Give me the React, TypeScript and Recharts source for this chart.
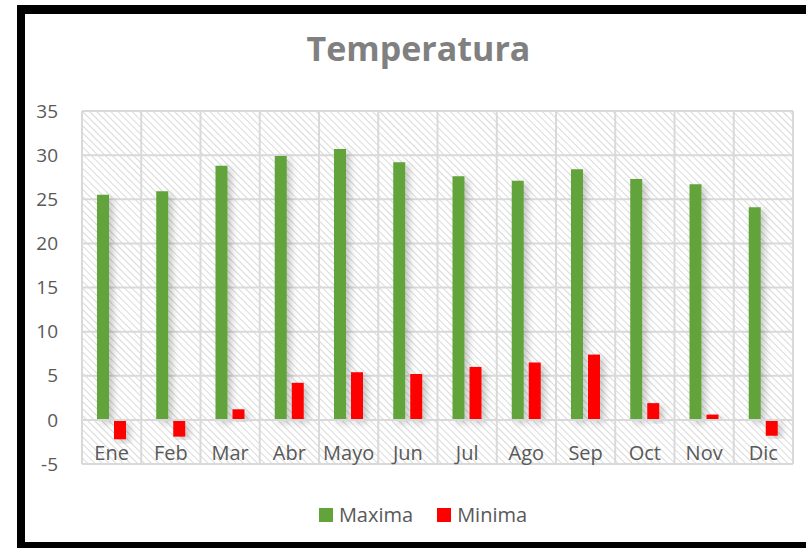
import { BarChart, Bar, XAxis, YAxis, CartesianGrid, Legend, ReferenceLine } from "recharts";

const months = ["Ene", "Feb", "Mar", "Abr", "Mayo", "Jun", "Jul", "Ago", "Sep", "Oct", "Nov", "Dic"];
const maxima = [25.5, 25.9, 28.8, 29.9, 30.7, 29.2, 27.6, 27.1, 28.4, 27.3, 26.7, 24.1];
const minima = [-2.2, -1.9, 1.2, 4.2, 5.4, 5.2, 6.0, 6.5, 7.4, 1.9, 0.6, -1.8];
const yTicks = [-5, 0, 5, 10, 15, 20, 25, 30, 35];

const data = months.map((m, i) => ({ name: m, Maxima: maxima[i], Minima: minima[i] }));

const FONT = "'Open Sans', 'DejaVu Sans', sans-serif";
const TEXT = "#595959";

// labels sit just under the zero line, inside the plot
const MonthTick = (props: any) => {
  const { x, y, payload } = props;
  return (
    <text x={x} y={y - 20} textAnchor="middle" dominantBaseline="central" fill={TEXT} fontSize={20} fontFamily={FONT}>
      {payload.value}
    </text>
  );
};

const LegendContent = (props: any) => {
  const { payload } = props;
  return (
    <div style={{ display: "flex", justifyContent: "center", gap: 24, fontFamily: FONT, fontSize: 20, color: TEXT }}>
      {payload.map((p: any) => (
        <div key={p.value} style={{ display: "flex", alignItems: "center", gap: 6 }}>
          <span style={{ width: 14, height: 14, background: p.color, display: "inline-block" }} />
          <span>{p.value}</span>
        </div>
      ))}
    </div>
  );
};

const App = () => {
  return (
    <div style={{ position: "absolute", left: 0, top: 0, width: 806, height: 548, overflow: "hidden", background: "#fff" }}>
      <BarChart
        width={806}
        height={548}
        data={data}
        margin={{ top: 111, right: 13, bottom: 54, left: 0 }}
        barSize={12}
        barGap={5}
        style={{ fontFamily: FONT }}
      >
        <defs>
          <pattern id="hatch" width="5" height="5" patternUnits="userSpaceOnUse" patternTransform="rotate(45)">
            <rect width="5" height="5" fill="#ffffff" />
            <line x1="0" y1="0" x2="5" y2="0" stroke="#d6d6d6" strokeWidth="1.8" />
          </pattern>
          <filter id="shadow" x="-50%" y="-20%" width="250%" height="140%">
            <feDropShadow dx="4" dy="3" stdDeviation="3.5" floodColor="#000" floodOpacity="0.22" />
          </filter>
        </defs>
        <CartesianGrid
          fill="url(#hatch)"
          stroke="#d9d9d9"
          strokeWidth={2}
          verticalCoordinatesGenerator={({ offset }: any) =>
            months.map((_, i) => offset.left + (offset.width * i) / months.length).concat(offset.left + offset.width)
          }
        />
        <XAxis dataKey="name" height={30} axisLine={false} tickLine={false} tick={<MonthTick />} interval={0} />
        <YAxis
          domain={[-5, 35]}
          ticks={yTicks}
          width={82}
          axisLine={false}
          tickLine={false}
          tickMargin={18}
          tick={{ fill: TEXT, fontSize: 19, fontFamily: FONT }}
        />
        <ReferenceLine y={0} stroke="#d9d9d9" strokeWidth={2} />
        <Bar dataKey="Maxima" fill="#62a33a" isAnimationActive={false} filter="url(#shadow)" />
        <Bar dataKey="Minima" fill="#ff0000" isAnimationActive={false} filter="url(#shadow)" />
        <Legend
          verticalAlign="middle"
          align="center"
          layout="horizontal"
          content={<LegendContent />}
          wrapperStyle={{ top: 501, left: 38, width: 770 }}
        />
      </BarChart>
      <div
        style={{
          position: "absolute",
          left: 0,
          top: 25,
          width: 837,
          textAlign: "center",
          fontFamily: FONT,
          fontWeight: 700,
          fontSize: 34,
          color: "#808080",
        }}
      >
        Temperatura
      </div>
      <div
        style={{
          position: "absolute",
          left: 17,
          top: 5,
          width: 820,
          height: 545,
          border: "8px solid #000",
          boxSizing: "border-box",
          borderTopWidth: 9,
          pointerEvents: "none",
        }}
      />
    </div>
  );
};

export default App;
